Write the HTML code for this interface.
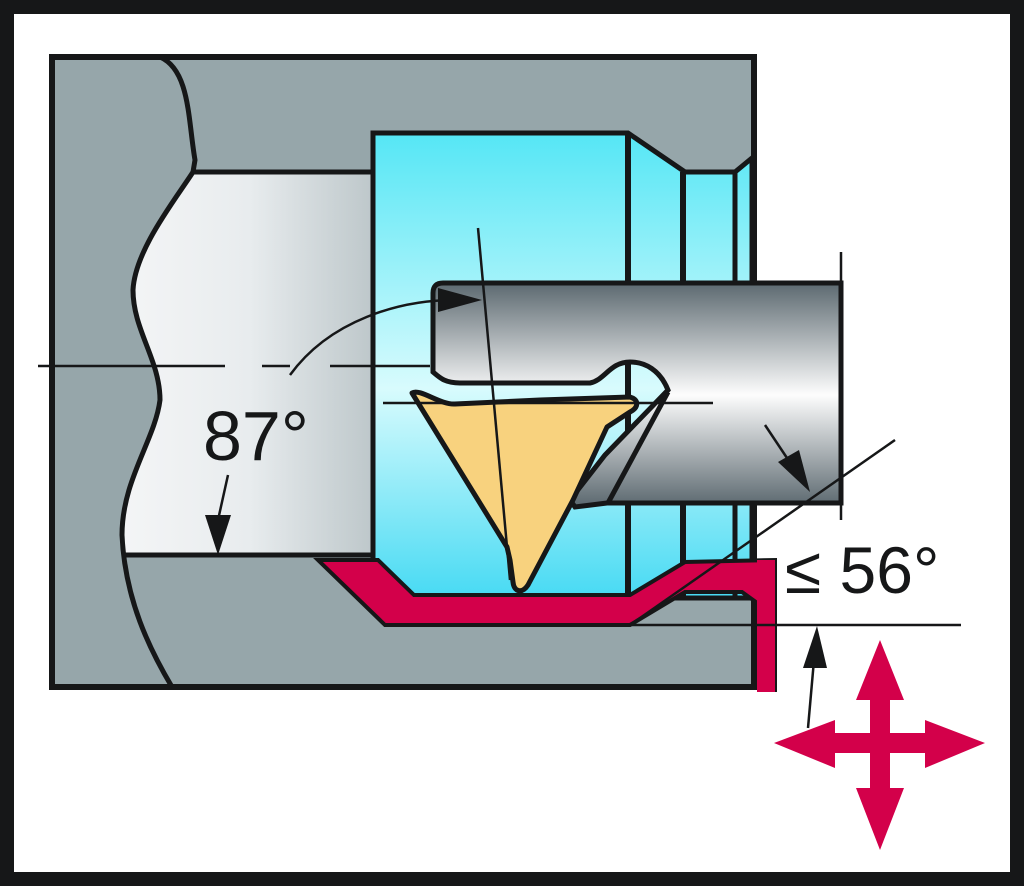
<!DOCTYPE html>
<html><head><meta charset="utf-8"><style>
html,body{margin:0;padding:0;background:#161718;}
svg{display:block}
</style></head><body>
<svg width="1024" height="886" viewBox="0 0 1024 886" xmlns="http://www.w3.org/2000/svg">
<defs>
<linearGradient id="cy" x1="0" y1="0" x2="0" y2="1">
<stop offset="0" stop-color="#55e6f5"/><stop offset="0.55" stop-color="#d8fbfd"/><stop offset="1" stop-color="#47daf3"/>
</linearGradient>
<linearGradient id="bone" x1="0" y1="0" x2="1" y2="0">
<stop offset="0" stop-color="#f4f5f6"/><stop offset="0.5" stop-color="#e8ecee"/><stop offset="1" stop-color="#bcc6c9"/>
</linearGradient>
<linearGradient id="bar" x1="0" y1="0" x2="0" y2="1">
<stop offset="0" stop-color="#5c6970"/><stop offset="0.5" stop-color="#fdfdfd"/><stop offset="1" stop-color="#5a676e"/>
</linearGradient>
</defs>
<rect x="14" y="14" width="996" height="858" fill="#fff"/>
<rect x="52" y="57" width="702" height="630" fill="#96a6aa" stroke="#161718" stroke-width="6"/>
<path d="M193,172 L377,172 L377,555 L122,555 C122,480 155,440 160,400 C160,360 133,330 133,290 C135,250 175,200 193,172 Z" fill="url(#bone)"/>
<path d="M193,172 L377,172 M377,555 L122,555" stroke="#161718" stroke-width="5"/>
<path d="M160,57 C190,70 188,120 195,160 L193,172 C175,200 135,250 133,290 C133,330 160,360 160,400 C155,440 122,480 122,535 C125,600 150,650 172,687" fill="none" stroke="#161718" stroke-width="5"/>
<path d="M373,133 L628,133 L685,172 L735,172 L752,158 L752,598 L373,598 Z" fill="url(#cy)" stroke="#161718" stroke-width="5"/>
<line x1="628" y1="133" x2="628" y2="598" stroke="#161718" stroke-width="6"/>
<line x1="683" y1="172" x2="683" y2="598" stroke="#161718" stroke-width="6"/>
<line x1="735" y1="172" x2="735" y2="598" stroke="#161718" stroke-width="5"/>
<path d="M318,560 L378,560 L414,595 L630,595 L685,562 L775,560 L775,690 L760,690 L760,605 L742,592 L685,592 L630,625 L385,625 Z" fill="#d3004a" stroke="#161718" stroke-width="4"/>
<rect x="757" y="560" width="18" height="132" fill="#d3004a"/>
<path d="M443,283 L841,283 L841,503 L607,503 L575,507 L570,500 L605,455 L668,390 C660,370 645,362 630,362 C610,362 605,380 590,383 L460,383 C445,383 440,378 433,372 L433,293 Q433,283 443,283 Z" fill="url(#bar)" stroke="#161718" stroke-width="5"/>
<path d="M668,392 L608,503" stroke="#161718" stroke-width="5" fill="none"/>
<path d="M412,393 C420,388 440,405 455,404 L540,400 L630,397 C640,400 638,408 630,412 L607,427 L573,500 L528,585 C522,594 514,592 513,582 L510,560 L507,547 Z" fill="#f8d27e" stroke="#161718" stroke-width="5" stroke-linejoin="round"/>
<g stroke="#161718" stroke-width="2.5" fill="none">
<path d="M38,366 L225,366 M262,366 L290,366 M330,366 L430,366"/>
<line x1="383" y1="403" x2="713" y2="403"/>
<line x1="478" y1="228" x2="510" y2="580"/>
<path d="M290,375 C330,320 400,300 455,300"/>
<line x1="841" y1="252" x2="841" y2="520" stroke-dasharray="90,8,3,8"/>
<line x1="765" y1="425" x2="795" y2="470"/>
<line x1="895" y1="440" x2="630" y2="625"/>
<line x1="630" y1="625" x2="961" y2="625"/>
<line x1="228" y1="475" x2="218" y2="520"/>
<line x1="808" y1="728" x2="814" y2="660"/>
</g>
<polygon points="438,288 482,300 438,312" fill="#161718"/>
<polygon points="205,515 231,515 218,555" fill="#161718"/>
<polygon points="778,462 799,450 810,492" fill="#161718"/>
<polygon points="803,668 827,668 817,626" fill="#161718"/>
<text x="203" y="460" font-family="Liberation Sans, sans-serif" font-size="70" fill="#161718">87°</text>
<text x="785" y="593" font-family="Liberation Sans, sans-serif" font-size="66" fill="#161718">≤ 56°</text>
<g fill="#d3004a">
<rect x="830" y="733" width="100" height="20"/>
<rect x="870" y="695" width="20" height="98"/>
<polygon points="774,743 835,720 835,768"/>
<polygon points="985,743 925,720 925,768"/>
<polygon points="880,640 856,700 904,700"/>
<polygon points="880,850 856,788 904,788"/>
</g>
</svg>
</body></html>
